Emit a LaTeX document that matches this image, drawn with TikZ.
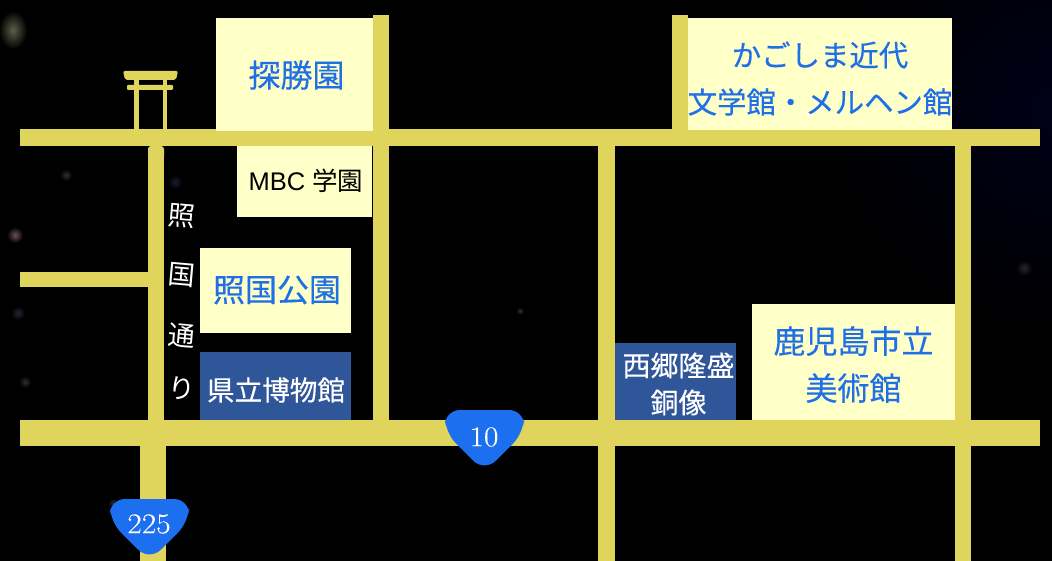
\documentclass[tikz,border=0pt]{standalone}
\usepackage{fontspec}
\newfontfamily\jp{Noto Sans CJK JP}
\newfontfamily\jpb[FakeBold=0.25]{Noto Sans CJK JP}
\newfontfamily\mbcfont{Liberation Sans}
\newfontfamily\routefont[FakeBold=0.3,FakeStretch=1.1]{Latin Modern Roman}
\definecolor{road}{HTML}{E0D55C}
\definecolor{paper}{HTML}{FFFFC8}
\definecolor{linkblue}{HTML}{1E6FE8}
\definecolor{plate}{HTML}{30569A}
\definecolor{shield}{HTML}{1C6FEE}
\definecolor{glow}{HTML}{000018}
\definecolor{olive}{HTML}{5C6048}
\definecolor{dimgrey}{HTML}{303030}
\definecolor{dimrose}{HTML}{6A5058}
\definecolor{dimblue}{HTML}{181C38}
\definecolor{dimviolet}{HTML}{282438}
\newcommand{\jpsize}[2]{\fontsize{#1}{#2}\selectfont\jpb}
\tikzset{
  roadfill/.style={fill=road},
  lightbox/.style={fill=paper,anchor=north west,inner sep=0pt},
  darkbox/.style={fill=plate,anchor=north west,inner sep=0pt},
  bluetext/.style={text=linkblue,inner sep=0pt,align=center},
  whitetext/.style={text=white,inner sep=0pt,align=center},
  vchar/.style={text=white,inner sep=0pt,rotate=-5,font=\fontsize{27}{27}\selectfont\jp},
  shieldshape/.style={fill=shield},
  shieldtext/.style={text=white,inner sep=0pt,font=\fontsize{28.5}{29}\selectfont\routefont},
}
\begin{document}
\begin{tikzpicture}[x=1pt,y=-1pt]
\useasboundingbox (0,0) rectangle (1052,561);
\fill[black] (0,0) rectangle (1052,561);
\begin{scope}
\clip (0,0) rectangle (1052,561);
\shade[inner color=glow,outer color=black] (1052,110) circle (230);
\shade[inner color=olive,outer color=black] (13,30) ellipse (14 and 19);
\shade[inner color=dimgrey,outer color=black] (66,175) circle (6);
\shade[inner color=dimrose,outer color=black] (15,235) circle (8);
\shade[inner color=dimblue,outer color=black] (175,182) circle (7);
\shade[inner color=dimviolet,outer color=black] (18,313) circle (7);
\shade[inner color=dimgrey,outer color=black] (25,382) circle (6);
\shade[inner color=dimgrey,outer color=black] (520,311) circle (4);
\shade[inner color=dimviolet,outer color=black] (1024,268) circle (8);
\shade[inner color=dimgrey,outer color=black] (113,503) circle (5);
\end{scope}
% roads
\fill[roadfill] (20,129) rectangle (1040,146);
\fill[roadfill] (20,420) rectangle (1040,446);
\fill[roadfill] (20,272) rectangle (150,287);
\fill[roadfill] (148,150) rectangle (164,420);
\fill[roadfill,rounded corners=3pt] (148,160) -- (148,146) -- (164,146) -- (164,160) -- cycle;
\fill[roadfill] (140,446) rectangle (166,561);
\fill[roadfill] (373,15) rectangle (389,420);
\fill[roadfill] (672,15) rectangle (688,129);
\fill[roadfill] (598,146) rectangle (615,561);
\fill[roadfill] (955,146) rectangle (971,561);
% torii
\fill[roadfill,rounded corners=2pt] (123,71) -- (178,71) -- (176,80) -- (125,80) -- cycle;
\fill[roadfill,rounded corners=1pt] (127,85) rectangle (173,90);
\fill[roadfill] (134,78) rectangle (139,130);
\fill[roadfill] (163,78) rectangle (167,130);
% boxes
\node[lightbox,minimum width=157pt,minimum height=113pt] (tankoenbox) at (216,18) {};
\node[lightbox,minimum width=135pt,minimum height=71pt] (mbcbox) at (237,146) {};
\node[lightbox,minimum width=151pt,minimum height=85pt] (terukunibox) at (200,248) {};
\node[darkbox,minimum width=151pt,minimum height=68pt] (kenritsubox) at (200,352) {};
\node[darkbox,minimum width=121pt,minimum height=77pt] (saigobox) at (615,343) {};
\node[lightbox,minimum width=203pt,minimum height=116pt] (bijutsubox) at (752,304) {};
\node[lightbox,minimum width=264pt,minimum height=112pt] (kindaibox) at (688,18) {};
% box texts
\node[bluetext,font=\jpsize{32}{47}] (tankoen) at (296.5,75) {探勝園};
\node[inner sep=0pt,text=black] (mbc) at (306,181) {\fontsize{25.5}{30}\selectfont\mbcfont MBC \jp 学園};
\node[bluetext,font=\jpsize{32}{47}] (terukuni) at (277,290) {照国公園};
\node[whitetext,font=\jpsize{27.6}{34}] (kenritsu) at (276,390) {県立博物館};
\node[whitetext,font=\jpsize{28}{37}] (saigo) at (678.5,384) {西郷隆盛\\銅像};
\node[bluetext,font=\jpsize{32}{47}] (bijutsu) at (853.5,364.5) {鹿児島市立\\美術館};
\node[bluetext,font=\jpsize{29.4}{47}] (kindai) at (820,78.5) {かごしま近代\\文学館・メルヘン館};
% vertical label
\node[vchar] (c1) at (181.5,216) {照};
\node[vchar] (c2) at (181.5,275) {国};
\node[vchar] (c3) at (181.5,336) {通};
\node[vchar] (c4) at (181.5,389) {り};
% shields
\fill[shieldshape] (484.5,410) [rounded corners=15pt] -- (524,410) -- (524,432.5) [rounded corners=16pt] -- (484.5,472) [rounded corners=15pt] -- (445,432.5) -- (445,410) -- cycle;
\node[shieldtext] (r10) at (484,437) {10};
\fill[shieldshape] (149.5,499) [rounded corners=15pt] -- (189,499) -- (189,521.5) [rounded corners=16pt] -- (149.5,561) [rounded corners=15pt] -- (110,521.5) -- (110,499) -- cycle;
\node[shieldtext] (r225) at (149,524) {225};
\end{tikzpicture}
\end{document}
